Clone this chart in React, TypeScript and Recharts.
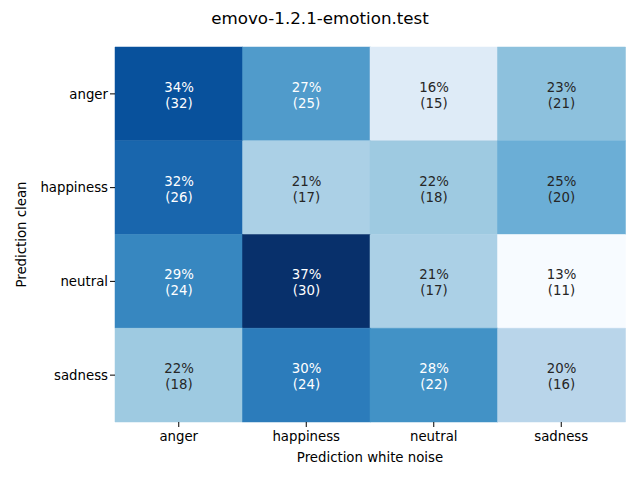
import { Bar, BarChart, Cell, LabelList, Text, XAxis, YAxis } from "recharts";

const rowLabels = ["anger", "happiness", "neutral", "sadness"];
const colLabels = ["anger", "happiness", "neutral", "sadness"];

// percent per cell, row = prediction clean, col = prediction white noise
const percents = [
  [34, 27, 16, 23],
  [32, 21, 22, 25],
  [29, 37, 21, 13],
  [22, 30, 28, 20],
];
const counts = [
  [32, 25, 15, 21],
  [26, 17, 18, 20],
  [24, 30, 17, 11],
  [18, 24, 22, 16],
];

const BLUES = [
  "#f7fbff", "#deebf7", "#c6dbef", "#9ecae1", "#6baed6",
  "#4292c6", "#2171b5", "#08519c", "#08306b",
];

const flat = percents.flat();
const vmin = Math.min(...flat);
const vmax = Math.max(...flat);

function hexToRgb(h: string) {
  const n = parseInt(h.slice(1), 16);
  return [(n >> 16) & 255, (n >> 8) & 255, n & 255];
}

function norm(v: number) {
  return (v - vmin) / (vmax - vmin);
}

function blues(v: number) {
  const t = Math.max(0, Math.min(1, norm(v))) * (BLUES.length - 1);
  const i = Math.min(Math.floor(t), BLUES.length - 2);
  const f = t - i;
  const a = hexToRgb(BLUES[i]);
  const b = hexToRgb(BLUES[i + 1]);
  const c = a.map((x, k) => Math.round(x + (b[k] - x) * f));
  return `rgb(${c[0]},${c[1]},${c[2]})`;
}

// one row per column, each heatmap row is a stacked segment of height 1
const tableData = colLabels.map((col) => {
  const d: Record<string, string | number> = { col };
  rowLabels.forEach((_, i) => (d[`r${i}`] = 1));
  return d;
});

const FONT = "DejaVu Sans, sans-serif";

function cellLabel(rowIdx: number) {
  return (props: any) => {
    const { x, y, width, height, index } = props;
    const p = percents[rowIdx][index];
    const fill = norm(p) > 0.55 ? "#ffffff" : "#262626";
    const cx = x + width / 2;
    const cy = y + height / 2;
    return (
      <text x={cx} y={cy} textAnchor="middle" fill={fill} fontSize={13.3} fontFamily={FONT}>
        <tspan x={cx} dy={-2}>{`${p}%`}</tspan>
        <tspan x={cx} dy={16}>{`(${counts[rowIdx][index]})`}</tspan>
      </text>
    );
  };
}

export default function App() {
  return (
    <div style={{ position: "absolute", left: 0, top: 0, width: 640, height: 480, background: "#fff" }}>
      <div
        style={{
          position: "absolute",
          top: 8,
          width: 640,
          textAlign: "center",
          fontFamily: FONT,
          fontSize: 16.7,
          color: "#000",
        }}
      >
        emovo-1.2.1-emotion.test
      </div>
      <BarChart
        width={640}
        height={480}
        data={tableData}
        margin={{ top: 47, right: 15, bottom: 0, left: 0 }}
        barCategoryGap={0}
        barGap={0}
      >
        <XAxis
          dataKey="col"
          type="category"
          height={58}
          axisLine={false}
          tickSize={5}
          tickMargin={5}
          tickLine={{ stroke: "#000" }}
          tick={{ fill: "#000", fontSize: 13.3, fontFamily: FONT }}
          label={{
            value: "Prediction white noise",
            position: "insideBottom",
            offset: 18,
            fill: "#000",
            fontSize: 13.3,
            fontFamily: FONT,
          }}
        />
        <YAxis
          type="number"
          domain={[0, 4]}
          ticks={[0.5, 1.5, 2.5, 3.5]}
          reversed
          width={115}
          axisLine={false}
          tickSize={5}
          tickLine={{ stroke: "#000" }}
          tickFormatter={(v: number) => rowLabels[Math.floor(v)]}
          tick={{ fill: "#000", fontSize: 13.3, fontFamily: FONT }}
          label={(props: any) => {
            const vb = props.viewBox;
            const cy = vb.y + vb.height / 2;
            return (
              <Text
                x={21}
                y={cy}
                angle={-90}
                textAnchor="middle"
                verticalAnchor="middle"
                fill="#000"
                fontSize={13.3}
                fontFamily={FONT}
              >
                Prediction clean
              </Text>
            );
          }}
        />
        {rowLabels.map((row, i) => (
          <Bar key={row} dataKey={`r${i}`} stackId="a" isAnimationActive={false}>
            {colLabels.map((col, j) => (
              <Cell key={col} fill={blues(percents[i][j])} stroke={blues(percents[i][j])} strokeWidth={0.5} />
            ))}
            <LabelList content={cellLabel(i)} />
          </Bar>
        ))}
      </BarChart>
    </div>
  );
}
